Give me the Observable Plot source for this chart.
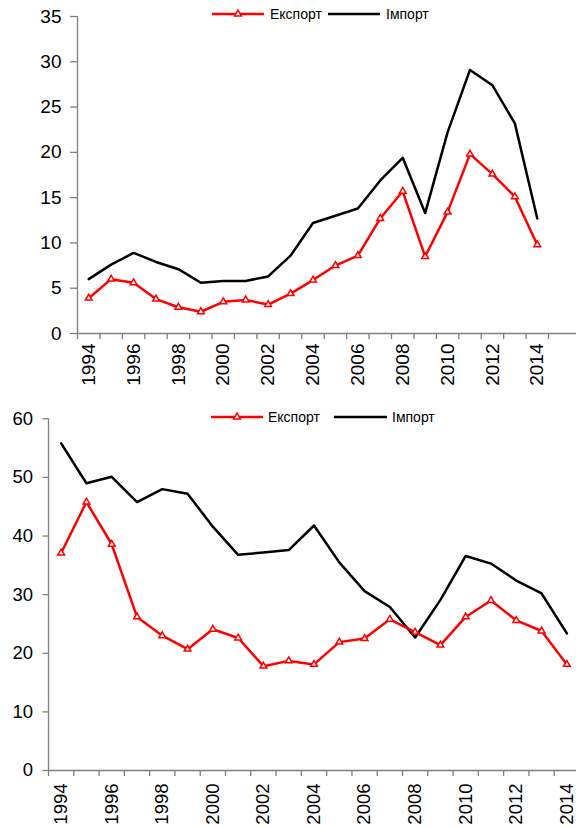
<!DOCTYPE html>
<html><head><meta charset="utf-8">
<script src="https://cdn.jsdelivr.net/npm/d3@7"></script>
<script src="https://cdn.jsdelivr.net/npm/@observablehq/plot@0.6"></script>
<style>
body{margin:0;background:#fff;font-family:"Liberation Sans",Arial,sans-serif;}
#wrap{position:relative;width:576px;height:827px;overflow:hidden;background:#fff;}
.chart{position:absolute;left:0;}
.lg{position:absolute;display:flex;align-items:center;font-size:14px;color:#000;line-height:1;white-space:nowrap;}
</style></head><body>
<div id="wrap"></div>
<script>
const years = [1994,1995,1996,1997,1998,1999,2000,2001,2002,2003,2004,2005,2006,2007,2008,2009,2010,2011,2012,2013,2014];
const yearLabels = [1994,1996,1998,2000,2002,2004,2006,2008,2010,2012,2014];
const seriesNames = ["Експорт","Імпорт"];

// Top chart
const exportTop = [3.9,6.0,5.6,3.8,2.9,2.4,3.5,3.7,3.2,4.4,5.9,7.5,8.6,12.7,15.7,8.5,13.4,19.8,17.6,15.1,9.8];
const importTop = [6.0,7.6,8.9,7.9,7.1,5.6,5.8,5.8,6.3,8.6,12.2,13.0,13.8,16.9,19.4,13.3,22.2,29.1,27.4,23.2,12.7];
const yTicksTop = [0,5,10,15,20,25,30,35];

// Bottom chart
const exportBottom = [37.1,45.8,38.6,26.2,23.0,20.7,24.1,22.6,17.8,18.7,18.1,21.9,22.5,25.8,23.6,21.4,26.2,29.0,25.6,23.8,18.1];
const importBottom = [55.8,49.0,50.1,45.8,48.0,47.2,41.6,36.8,37.2,37.6,41.8,35.5,30.6,27.9,22.7,29.1,36.6,35.3,32.4,30.2,23.4];
const yTicksBottom = [0,10,20,30,40,50,60];

const RED = "#ff0000", BLACK = "#000000", GRAY = "#7f7f7f";

function chart({exp, imp, yTicks, height, marginTop, marginBottom, marginLeft, xRight, fontSize, yTickSize, yPad, xPad}) {
  const rows = years.map((year, i) => ({year, exp: exp[i], imp: imp[i]}));
  const bounds = years.map(y => y - 0.5).concat([years[years.length - 1] + 0.5]);
  return Plot.plot({
    width: 576, height, marginTop, marginBottom, marginLeft, marginRight: 0,
    style: {fontFamily: "'Liberation Sans', Arial, sans-serif", fontSize: fontSize + "px", color: "#000", background: "#fff", overflow: "visible"},
    x: {type: "linear", domain: [bounds[0], bounds[bounds.length - 1]], range: [marginLeft, xRight]},
    y: {domain: [yTicks[0], yTicks[yTicks.length - 1]]},
    marks: [
      Plot.axisY({ticks: yTicks, tickSize: yTickSize, tickPadding: yPad, stroke: GRAY, strokeWidth: 1.3, fill: "#000", label: null, fontSize, tickFormat: d => String(d)}),
      Plot.axisX({ticks: bounds, tickSize: 6, tickFormat: () => "", stroke: GRAY, strokeWidth: 1.3, label: null}),
      Plot.axisX({ticks: yearLabels, tickSize: 0, tickRotate: -90, tickPadding: xPad, fill: "#000", label: null, fontSize, tickFormat: d => String(d)}),
      Plot.ruleX([bounds[0]], {stroke: GRAY, strokeWidth: 1.3}),
      Plot.ruleY([yTicks[0]], {stroke: GRAY, strokeWidth: 1.3}),
      Plot.line(rows, {x: "year", y: "imp", stroke: BLACK, strokeWidth: 2.5}),
      Plot.line(rows, {x: "year", y: "exp", stroke: RED, strokeWidth: 2.5}),
      Plot.dot(rows, {x: "year", y: "exp", symbol: "triangle", r: 2.5, fill: "#fff", stroke: RED, strokeWidth: 1.5})
    ]
  });
}

const wrap = document.getElementById("wrap");

const top1 = chart({exp: exportTop, imp: importTop, yTicks: yTicksTop, height: 395, marginTop: 16, marginBottom: 62, marginLeft: 77, xRight: 548, fontSize: 19, yTickSize: 7, yPad: 9, xPad: 10});
top1.classList.add("chart"); top1.style.top = "0px";
wrap.appendChild(top1);

const bot1 = chart({exp: exportBottom, imp: importBottom, yTicks: yTicksBottom, height: 432, marginTop: 23.3, marginBottom: 57, marginLeft: 48, xRight: 579, fontSize: 18.5, yTickSize: 5.5, yPad: 10, xPad: 13});
bot1.classList.add("chart"); bot1.style.top = "395px";
wrap.appendChild(bot1);

const tri = d3.symbol(d3.symbolTriangle, Math.PI * 2.5 * 2.5)();
function legendItem(x, y, w, label, color, marker, gap) {
  const d = document.createElement("div");
  d.className = "lg";
  d.style.left = x + "px";
  d.style.top = (y - 9) + "px";
  d.style.height = "18px";
  d.innerHTML = `<svg width="${w}" height="18" style="display:block"><line x1="0" x2="${w}" y1="9" y2="9" stroke="${color}" stroke-width="2.5"/>` +
    (marker ? `<path d="${tri}" transform="translate(${w/2},9)" fill="#fff" stroke="${color}" stroke-width="1.5"/>` : "") +
    `</svg><span style="margin-left:${gap}px">${label}</span>`;
  wrap.appendChild(d);
}
legendItem(212, 14, 52, seriesNames[0], RED, true, 6);
legendItem(328, 14, 52, seriesNames[1], BLACK, false, 6);
legendItem(211, 416.7, 52, seriesNames[0], RED, true, 5);
legendItem(334, 416.7, 53, seriesNames[1], BLACK, false, 5);
</script>
</body></html>
